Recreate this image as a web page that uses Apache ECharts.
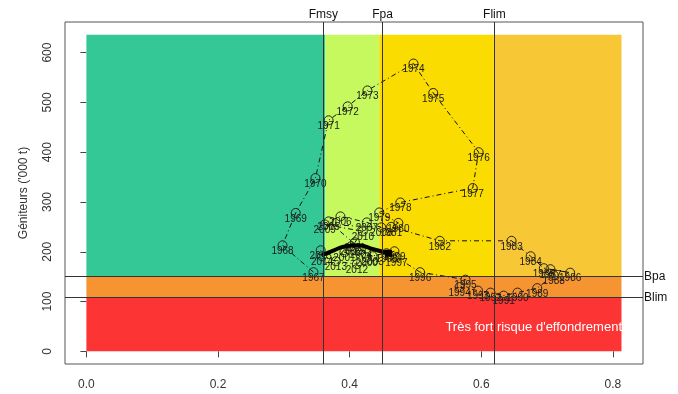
<!DOCTYPE html>
<html>
<head>
<meta charset="utf-8">
<script src="https://cdn.jsdelivr.net/npm/echarts@6/dist/echarts.min.js"></script>
<style>
  html, body { margin: 0; background: #fff; }
  #chart { width: 678px; height: 394px; }
</style>
</head>
<body>
<div id="chart"></div>
<script>
// stock trajectory: fishing mortality (F) vs spawning biomass ('000 t)
const years = [1967, 1968, 1969, 1970, 1971, 1972, 1973, 1974, 1975, 1976, 1977, 1978, 1979, 1980,
  1981, 1982, 1983, 1984, 1985, 1986, 1987, 1988, 1989, 1990, 1991, 1992, 1993, 1994, 1995, 1996,
  1997, 1998, 1999, 2000, 2001, 2002, 2003, 2004, 2005, 2006, 2007, 2008, 2009, 2010, 2011, 2012,
  2013, 2014, 2015];
const fishing = [0.345, 0.298, 0.318, 0.348, 0.368, 0.397, 0.427, 0.497, 0.527, 0.596, 0.587, 0.477, 0.445, 0.474,
  0.463, 0.537, 0.646, 0.675, 0.695, 0.735, 0.705, 0.71, 0.685, 0.655, 0.634, 0.614, 0.595, 0.567, 0.576, 0.507,
  0.471, 0.456, 0.468, 0.426, 0.392, 0.402, 0.435, 0.417, 0.368, 0.386, 0.426, 0.448, 0.362, 0.42, 0.408, 0.411,
  0.379, 0.358, 0.356];
const spawners = [159, 213, 278, 348, 464, 492, 524, 578, 519, 400, 328, 299, 279, 258,
  250, 222, 222, 191, 167, 158, 165, 153, 127, 118, 112, 118, 122, 129, 144, 159,
  189, 197, 201, 189, 199, 211, 191, 205, 261, 271, 259, 249, 255, 241, 219, 175,
  181, 191, 203];

// thick recent trend line
const trendF = [0.358, 0.376, 0.394, 0.413, 0.436, 0.459];
const trendSsb = [193, 203, 211, 213, 205, 197];

// reference points
const fRefNames = ['Fmsy', 'Fpa', 'Flim'];
const fRefs = [0.363, 0.445, 0.619];
const bRefNames = ['Bpa', 'Blim'];
const bRefs = [150, 108];

// zone edges and colours
const fEdges = [0, 0.363, 0.445, 0.619, 0.813];
const bTop = 636;
const upperColors = ['#33C896', '#C6F95E', '#FADC00', '#F8C736'];
const warnColor = '#F79432';
const dangerColor = '#FC3434';

const xTicks = [0, 0.2, 0.4, 0.6, 0.8];
const yTicks = [0, 100, 200, 300, 400, 500, 600];

const zones = upperColors.map((c, i) => [
  { xAxis: fEdges[i], yAxis: bRefs[0], itemStyle: { color: c, opacity: 1 } },
  { xAxis: fEdges[i + 1], yAxis: bTop }
]);
zones.push([
  { xAxis: fEdges[0], yAxis: bRefs[1], itemStyle: { color: warnColor, opacity: 1 } },
  { xAxis: fEdges[4], yAxis: bRefs[0] }
]);
zones.push([
  { xAxis: fEdges[0], yAxis: 0, itemStyle: { color: dangerColor, opacity: 1 } },
  { xAxis: fEdges[4], yAxis: bRefs[1] }
]);

const refLines = fRefs.map((v, i) => ({ xAxis: v, name: fRefNames[i] }))
  .concat(bRefs.map((v, i) => ({ yAxis: v, name: bRefNames[i] })));

const chart = echarts.init(document.getElementById('chart'));

chart.setOption({
  animation: false,
  textStyle: { fontFamily: 'Liberation Sans' },
  grid: { left: 65, right: 35, top: 22, bottom: 30, show: true, borderColor: '#555', borderWidth: 1 },
  xAxis: {
    type: 'value',
    min: -0.0325,
    max: 0.8457,
    axisLine: { show: false },
    axisTick: { show: true, customValues: xTicks, length: 6, lineStyle: { color: '#444' } },
    axisLabel: { customValues: xTicks, formatter: v => v.toFixed(1), fontSize: 12, color: '#333', margin: 15 },
    splitLine: { show: false }
  },
  yAxis: {
    type: 'value',
    min: -25.4,
    max: 661.4,
    name: "Géniteurs ('000 t)",
    nameLocation: 'middle',
    nameGap: 35,
    nameRotate: 90,
    nameTextStyle: { fontSize: 12, color: '#333' },
    axisLine: { show: false },
    axisTick: { show: true, customValues: yTicks, length: 6, lineStyle: { color: '#444' } },
    axisLabel: { customValues: yTicks, rotate: 90, fontSize: 12, color: '#333', margin: 11 },
    splitLine: { show: false }
  },
  graphic: [
    { type: 'text', x: 88, y: 68, style: { text: 'Maximisation/Optimisation', fill: '#111', font: '12px Liberation Sans', verticalAlign: 'middle' } },
    { type: 'text', x: 622, y: 327, z: 10, style: { text: "Très fort risque d'effondrement", fill: '#fff', font: '13px Liberation Sans', align: 'right', verticalAlign: 'middle' } }
  ],
  series: [
    {
      type: 'line',
      data: [],
      z: 1,
      markArea: { silent: true, data: zones }
    },
    {
      type: 'line',
      data: [],
      z: 2,
      markLine: {
        silent: true,
        symbol: ['none', 'none'],
        lineStyle: { type: 'solid', color: '#333', width: 1 },
        label: { position: 'end', formatter: p => p.name, fontSize: 12, color: '#111', distance: 1 },
        data: refLines
      }
    },
    {
      type: 'line',
      z: 3,
      data: years.map((y, i) => [fishing[i], spawners[i], y]),
      symbol: 'circle',
      symbolSize: 9,
      itemStyle: { color: 'rgba(0,0,0,0)', borderColor: '#222', borderWidth: 1 },
      lineStyle: { color: '#111', width: 1, type: [5, 3, 1, 3] },
      label: {
        show: true,
        formatter: p => p.value[2],
        position: 'inside',
        offset: [0, 6],
        fontSize: 10,
        color: '#1a1a1a'
      }
    },
    {
      type: 'line',
      z: 4,
      data: trendF.map((f, i) => (i === trendF.length - 1
        ? { value: [f, trendSsb[i]], symbol: 'rect', symbolSize: 7 }
        : [f, trendSsb[i]])),
      symbol: 'none',
      smooth: true,
      itemStyle: { color: '#000' },
      lineStyle: { color: '#000', width: 4 }
    }
  ]
});
</script>
</body>
</html>
